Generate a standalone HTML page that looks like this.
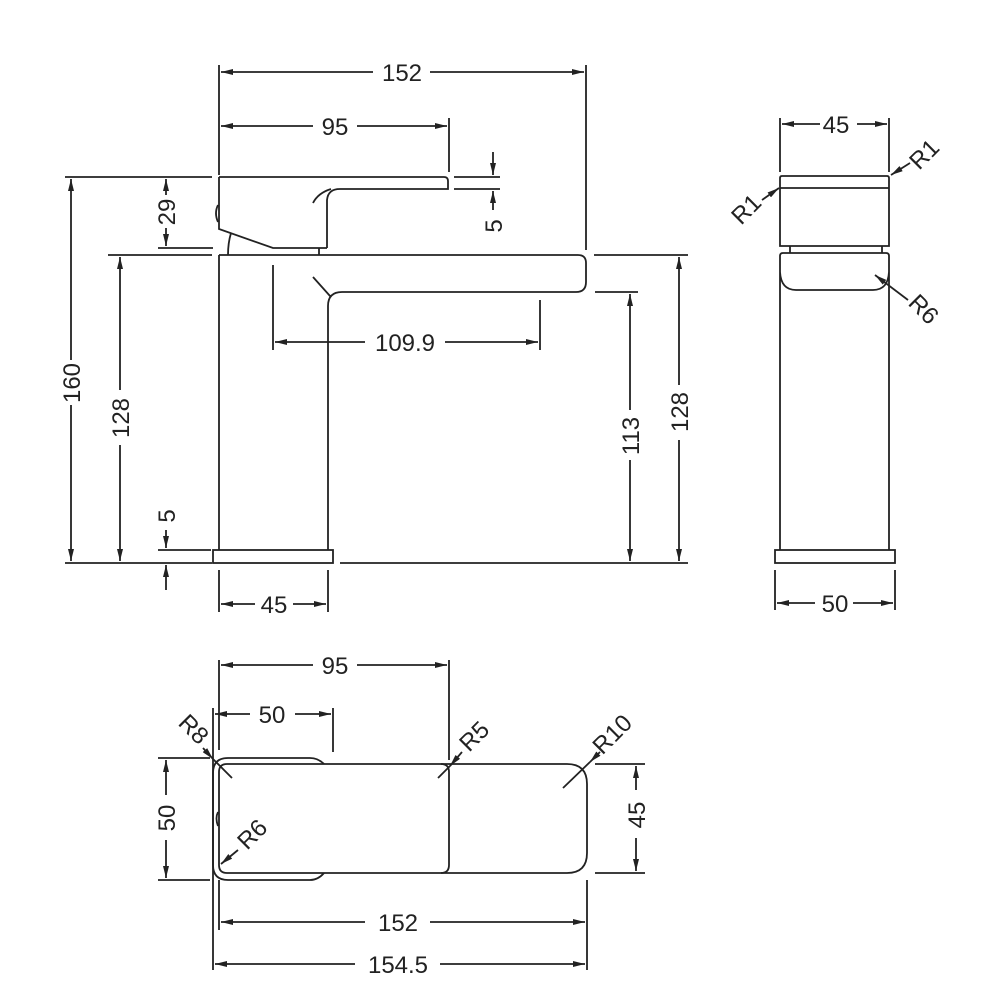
<!DOCTYPE html>
<html><head><style>html,body{margin:0;padding:0;background:#fff}svg{display:block}</style></head><body>
<svg width="1000" height="1000" viewBox="0 0 1000 1000" xmlns="http://www.w3.org/2000/svg">
<defs>
<marker id="a" viewBox="0 0 12 6" refX="12" refY="3" markerWidth="12" markerHeight="6" markerUnits="userSpaceOnUse" orient="auto-start-reverse"><path d="M0,0 L12,3 L0,6 z" fill="#222"/></marker>
</defs>
<g fill="none" stroke="#222" stroke-width="1.8">
<!-- FRONT VIEW extension lines -->
<path d="M219 65V175 M586 65V250 M449 118V172 M65 177H212 M65 563H212 M158 248H213 M108 255H212 M158 550H211 M273 265V350 M540 300V350 M340 563H688 M595 292H638 M594 255H688 M454 177H500 M454 189H500 M219 570V612 M328 570V612"/>
<!-- dims -->
<path d="M221 72H373 M430 72H584" marker-start="url(#a)" marker-end="url(#a)"/>
<path d="M221 126H313 M357 126H447" marker-start="url(#a)" marker-end="url(#a)"/>
<path d="M275 342H365 M445 342H538" marker-start="url(#a)" marker-end="url(#a)"/>
<path d="M71 179V360 M71 405V561" marker-start="url(#a)" marker-end="url(#a)"/>
<path d="M120 257V390 M120 445V561" marker-start="url(#a)" marker-end="url(#a)"/>
<path d="M630 294V410 M630 460V561" marker-start="url(#a)" marker-end="url(#a)"/>
<path d="M679 257V385 M679 440V561" marker-start="url(#a)" marker-end="url(#a)"/>
<path d="M166 179V195 M166 228V246" marker-start="url(#a)" marker-end="url(#a)"/>
<path d="M166 530V548" marker-end="url(#a)"/><path d="M166 590V565" marker-end="url(#a)"/>
<path d="M493 152V175" marker-end="url(#a)"/><path d="M493 210V191" marker-end="url(#a)"/>
<path d="M221 604H255 M293 604H326" marker-start="url(#a)" marker-end="url(#a)"/>
<!-- faucet front -->
<path d="M219 177H444Q448 177 448 181V189H340Q328 189 327 200V248 M313 203Q318 193 331 189"/>
<path d="M219 177V229L273 248H327"/>
<path d="M218 205Q214 213 218 222"/>
<path d="M231 233Q228 243 228 255 M319 248V255"/>
<path d="M219 255H578Q586 255 586 263V282Q586 292 576 292H342Q328 292 328 306V550 M313 277L330 296 M219 255V550"/>
<rect x="213" y="550" width="120" height="13"/>
<!-- SIDE VIEW -->
<path d="M780 118V172 M889 118V172 M775 570V610 M895 570V610"/>
<path d="M782 124H820 M857 124H887" marker-start="url(#a)" marker-end="url(#a)"/>
<path d="M777 603H815 M853 603H893" marker-start="url(#a)" marker-end="url(#a)"/>
<path d="M782 176H887Q889 176 889 178V246H780V178Q780 176 782 176Z M780 188H889"/>
<path d="M790 246V253 M882 246V253"/>
<path d="M783 253H886Q889 253 889 256V550 M783 253Q780 253 780 256V550 M780 272Q781 290 796 290H873Q888 290 889 272"/>
<rect x="775" y="550" width="120" height="13"/>
<path d="M762 200L779 188" marker-end="url(#a)"/>
<path d="M910 163L891 175" marker-end="url(#a)"/>
<path d="M875 275L908 300" marker-start="url(#a)"/>
<!-- TOP VIEW -->
<path d="M219 660V750 M449 660V760 M333 708V752 M213 708V970 M219 880V930 M587 880V970 M158 758H210 M158 880H210 M595 764H645 M595 873H645"/>
<path d="M221 665H313 M357 665H447" marker-start="url(#a)" marker-end="url(#a)"/>
<path d="M215 714H250 M295 714H331" marker-start="url(#a)" marker-end="url(#a)"/>
<path d="M166 760V795 M166 840V878" marker-start="url(#a)" marker-end="url(#a)"/>
<path d="M636 766V790 M636 838V871" marker-start="url(#a)" marker-end="url(#a)"/>
<path d="M221 922H365 M430 922H585" marker-start="url(#a)" marker-end="url(#a)"/>
<path d="M215 964H355 M440 964H585" marker-start="url(#a)" marker-end="url(#a)"/>
<path d="M324 764Q318 758 310 758H228Q213 758 213 773V865Q213 880 228 880H310Q318 880 324 873"/>
<path d="M227 764H567Q587 764 587 784V853Q587 873 567 873H227Q219 873 219 865V772Q219 764 227 764Z"/>
<path d="M449 772V865 M441 764Q449 764 449 772 M441 873Q449 873 449 865"/>
<path d="M218 812Q215 818 218 826"/>
<path d="M203 748L213 759" marker-end="url(#a)"/><path d="M213 759L232 778"/>
<path d="M438 778L450 766" /><path d="M462 752L450 766" marker-end="url(#a)"/>
<path d="M563 788L590 762" /><path d="M600 752L590 762" marker-end="url(#a)"/>
<path d="M238 850L221 864" marker-end="url(#a)"/>
</g>
<g font-family="Liberation Sans, sans-serif" font-size="24" fill="#222" text-anchor="middle">
<text x="402" y="81">152</text>
<text x="335" y="135">95</text>
<text x="405" y="351">109.9</text>
<text x="274" y="613">45</text>
<text x="836" y="133">45</text>
<text x="835" y="612">50</text>
<text x="335" y="674">95</text>
<text x="272" y="723">50</text>
<text x="398" y="931">152</text>
<text x="398" y="973">154.5</text>
<text transform="translate(80,383) rotate(-90)">160</text>
<text transform="translate(129,418) rotate(-90)">128</text>
<text transform="translate(639,436) rotate(-90)">113</text>
<text transform="translate(688,412) rotate(-90)">128</text>
<text transform="translate(175,212) rotate(-90)">29</text>
<text transform="translate(175,516) rotate(-90)">5</text>
<text transform="translate(502,226) rotate(-90)">5</text>
<text transform="translate(175,818) rotate(-90)">50</text>
<text transform="translate(645,815) rotate(-90)">45</text>
<text transform="translate(752,215) rotate(-45)">R1</text>
<text transform="translate(930,160) rotate(-45)">R1</text>
<text transform="translate(918,315) rotate(45)">R6</text>
<text transform="translate(188,735) rotate(45)">R8</text>
<text transform="translate(480,742) rotate(-45)">R5</text>
<text transform="translate(618,740) rotate(-45)">R10</text>
<text transform="translate(258,840) rotate(-45)">R6</text>
</g>
</svg>
</body></html>
